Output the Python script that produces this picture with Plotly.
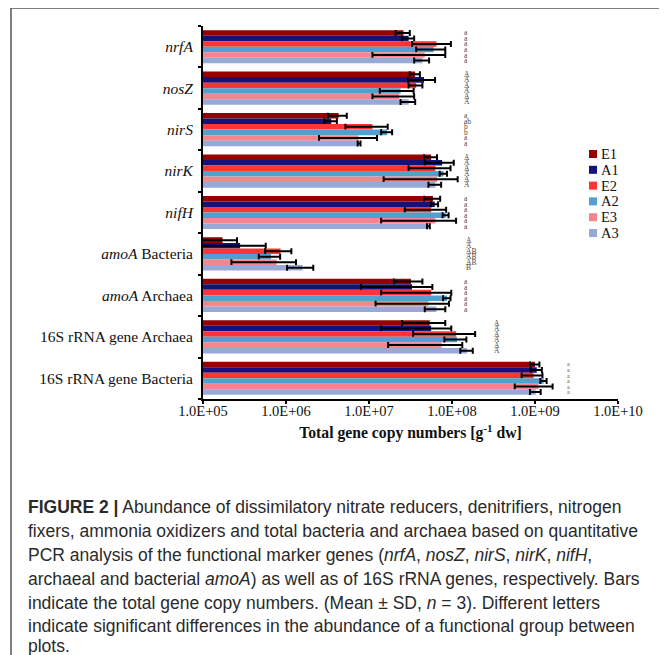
import plotly.graph_objects as go

categories = ["nrfA", "nosZ", "nirS", "nirK", "nifH", "amoA Bacteria", "amoA Archaea",
              "16S rRNA gene Archaea", "16S rRNA gene Bacteria"]
category_labels = ["<i>nrfA</i>", "<i>nosZ</i>", "<i>nirS</i>", "<i>nirK</i>", "<i>nifH</i>",
                   "<i>amoA</i> Bacteria", "<i>amoA</i> Archaea",
                   "16S rRNA gene Archaea", "16S rRNA gene Bacteria"]

series_names = ["E1", "A1", "E2", "A2", "E3", "A3"]

E1 = [2.6e7, 3.6e7, 4.3e6, 5.6e7, 5.9e7, 1.72e5, 3.2e7, 5.4e7, 1.0e9]
E1_sd = [0.5e7, 0.5e7, 1.1e6, 1.0e7, 1.3e7, 0.85e5, 1.2e7, 2.9e7, 1.3e8]
A1 = [3.0e7, 4.6e7, 3.5e6, 7.6e7, 6.2e7, 2.8e5, 3.3e7, 5.6e7, 1.05e9]
A1_sd = [0.5e7, 1.65e7, 0.6e6, 2.9e7, 0.6e7, 2.9e5, 2.5e7, 4.2e7, 1.6e8]
E2 = [6.5e7, 3.7e7, 1.1e7, 6.3e7, 5.6e7, 8.6e5, 5.6e7, 1.12e8, 9.6e8]
E2_sd = [3.2e7, 0.7e7, 5.8e6, 3.3e7, 2.9e7, 3.0e5, 4.2e7, 7.8e7, 2.7e8]
A2 = [6.0e7, 2.4e7, 1.65e7, 7.9e7, 8.4e7, 6.6e5, 8.7e7, 1.15e8, 1.27e9]
A2_sd = [2.3e7, 1.05e7, 2.5e6, 0.8e7, 0.7e7, 1.9e5, 0.9e7, 3.4e7, 1.1e8]
E3 = [4.7e7, 2.3e7, 7.5e6, 6.6e7, 6.3e7, 7.7e5, 5.2e7, 7.5e7, 1.1e9]
E3_sd = [3.6e7, 1.2e7, 5.0e6, 5.1e7, 4.9e7, 5.5e5, 4.0e7, 5.8e7, 5.3e8]
A3 = [4.4e7, 3.0e7, 7.6e6, 6.3e7, 5.2e7, 1.58e6, 6.5e7, 1.52e8, 1.02e9]
A3_sd = [0.9e7, 0.6e7, 0.3e6, 1.1e7, 0.2e7, 5.5e5, 1.8e7, 2.6e7, 1.5e8]

letters = [
    ["a", "a", "a", "a", "a", "a"],
    ["A", "A", "A", "A", "A", "A"],
    ["a", "ab", "b", "b", "a", "a"],
    ["A", "A", "A", "A", "A", "A"],
    ["a", "a", "a", "a", "a", "a"],
    ["A", "A", "AB", "AB", "AB", "B"],
    ["a", "a", "a", "a", "a", "a"],
    ["A", "A", "A", "A", "A", "A"],
    ["a", "a", "a", "a", "a", "a"],
]
letter_x_log = [8.12, 8.12, 8.12, 8.12, 8.12, 8.15, 8.12, 8.48, 9.36]

x_tickvals = [1e5, 1e6, 1e7, 1e8, 1e9, 1e10]
x_ticktext = ["1.0E+05", "1.0E+06", "1.0E+07", "1.0E+08", "1.0E+09", "1.0E+10"]

caption_lines = [
    "<b>FIGURE 2 |</b> Abundance of dissimilatory nitrate reducers, denitrifiers, nitrogen",
    "fixers, ammonia oxidizers and total bacteria and archaea based on quantitative",
    "PCR analysis of the functional marker genes (<i>nrfA</i>, <i>nosZ</i>, <i>nirS</i>, <i>nirK</i>, <i>nifH</i>,",
    "archaeal and bacterial <i>amoA</i>) as well as of 16S rRNA genes, respectively. Bars",
    "indicate the total gene copy numbers. (Mean \u00b1 SD, <i>n</i> = 3). Different letters",
    "indicate significant differences in the abundance of a functional group between",
    "plots.",
]

values = [E1, A1, E2, A2, E3, A3]
sds = [E1_sd, A1_sd, E2_sd, A2_sd, E3_sd, A3_sd]
colors = ["#960000", "#12127a", "#ff3535", "#52a0cf", "#f5868e", "#97a9d6"]

# page has an 8px body margin; work in page pixels and convert
OFF = 8
W, H = 659, 647
PL, PR, PT, PB = 203, 618, 26, 399   # plot area in page pixels
L, R, T, B = PL - OFF, W - (PR - OFF), PT - OFF, H - (PB - OFF)
pw, ph = W - L - R, H - T - B

def px(x):
    return (x - OFF - L) / pw

def py(y):
    return (H - B - (y - OFF)) / ph

fig = go.Figure()
for name, v, sd, c in zip(series_names, values, sds, colors):
    fig.add_trace(go.Bar(
        y=categories, x=v, orientation="h", name=name,
        marker=dict(color=c, line=dict(width=0)),
        error_x=dict(type="data", array=sd, visible=True, color="black",
                     thickness=2, width=3),
    ))

n = len(series_names)
bargap = 0.2
bw = (1 - bargap) / n
annotations = []
for ci, cat in enumerate(categories):
    for si in range(n):
        off = -(1 - bargap) / 2 + bw * (si + 0.5)
        annotations.append(dict(
            x=letter_x_log[ci], y=ci + off, xref="x", yref="y",
            text=letters[ci][si], showarrow=False, xanchor="left",
            font=dict(family="Liberation Serif", size=7.5 if ci != 8 else 6, color="#4a4a4a"),
        ))

line_y = [507, 531, 555, 579, 603, 626, 646]
for t, yy in zip(caption_lines, line_y):
    annotations.append(dict(
        x=px(26), y=py(yy), xref="paper", yref="paper", text=t, showarrow=False,
        xanchor="left", yanchor="middle",
        font=dict(family="Liberation Sans", size=17.5, color="#2a2a2a"),
    ))

# legend drawn as squares + labels
shapes = []
leg_y0, leg_dy = 154, 15.8
for i, (name, c) in enumerate(zip(series_names, colors)):
    yc = leg_y0 + i * leg_dy
    shapes.append(dict(type="rect", xref="paper", yref="paper",
                       x0=px(589), x1=px(597), y0=py(yc + 4), y1=py(yc - 4),
                       fillcolor=c, line=dict(width=0)))
    annotations.append(dict(x=px(599), y=py(yc), xref="paper", yref="paper", text=name,
                            showarrow=False, xanchor="left", yanchor="middle",
                            font=dict(family="Liberation Serif", size=14.5, color="#111111")))

shapes.append(dict(type="rect", xref="paper", yref="paper",
                   x0=px(11), x1=px(690), y0=py(680), y1=py(8),
                   line=dict(color="#555555", width=1.5), fillcolor="rgba(0,0,0,0)", layer="below"))

fig.update_layout(
    width=W, height=H,
    margin=dict(l=L, r=R, t=T, b=B, pad=0),
    paper_bgcolor="white", plot_bgcolor="white",
    barmode="group", bargap=bargap, bargroupgap=0,
    showlegend=False,
    xaxis=dict(type="log", range=[5, 10], tickvals=x_tickvals, ticktext=x_ticktext,
               showgrid=False, zeroline=False, showline=True, linecolor="black", linewidth=2,
               ticks="outside", ticklen=3, tickcolor="black", tickwidth=1.5,
               ticklabelstandoff=-5,
               tickfont=dict(family="Liberation Serif", size=14.5, color="#111111"),
               title=dict(text="<b>Total gene copy numbers [g<sup>-1</sup> dw]</b>",
                          font=dict(family="Liberation Serif", size=15.7, color="#111111"),
                          standoff=9)),
    yaxis=dict(type="category", autorange="reversed", tickvals=categories, ticktext=category_labels,
               showgrid=False, zeroline=False, showline=True, linecolor="black", linewidth=2,
               ticks="outside", tickson="boundaries", ticklen=3, tickcolor="black", tickwidth=1.5,
               ticklabelstandoff=5,
               tickfont=dict(family="Liberation Serif", size=15.5, color="#111111")),
    annotations=annotations,
    shapes=shapes,
)

fig.write_html("out.html")
